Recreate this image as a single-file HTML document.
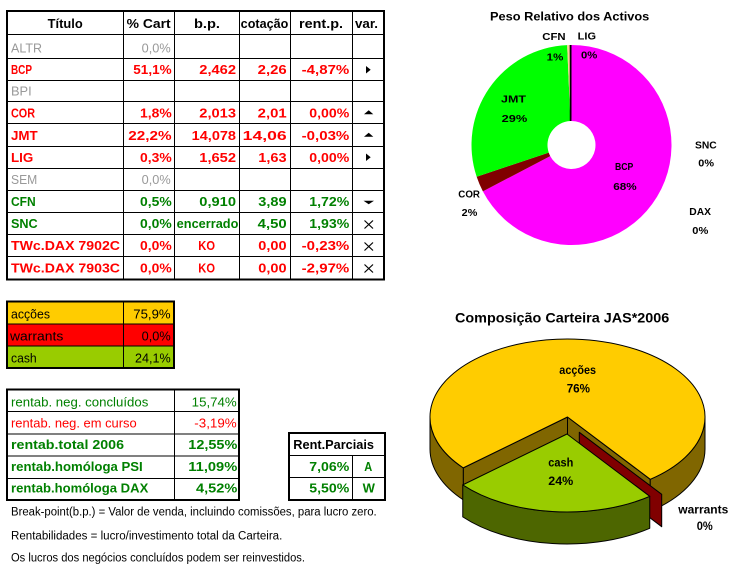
<!DOCTYPE html>
<html><head><meta charset="utf-8"><style>
html,body{margin:0;padding:0;background:#fff;width:734px;height:567px;overflow:hidden}
svg{display:block}
text{font-family:"Liberation Sans",sans-serif}
.b{font-weight:bold;font-size:12.5px}
.n{font-size:12.5px}
.red{fill:#ff0000}.grn{fill:#008000}.gry{fill:#999999}
.lb{font-weight:bold;font-size:10px;fill:#000}
</style></head><body>
<svg width="734" height="567" viewBox="0 0 734 567" xmlns="http://www.w3.org/2000/svg">
<!-- ===== Table 1 ===== -->
<g stroke="#000" stroke-width="1" fill="none">
<line x1="7" y1="34.5" x2="384" y2="34.5"/>
<line x1="7" y1="58.5" x2="384" y2="58.5"/>
<line x1="7" y1="80.5" x2="384" y2="80.5"/>
<line x1="7" y1="101.5" x2="384" y2="101.5"/>
<line x1="7" y1="123.5" x2="384" y2="123.5"/>
<line x1="7" y1="146.5" x2="384" y2="146.5"/>
<line x1="7" y1="168.5" x2="384" y2="168.5"/>
<line x1="7" y1="190.5" x2="384" y2="190.5"/>
<line x1="7" y1="212.5" x2="384" y2="212.5"/>
<line x1="7" y1="234.5" x2="384" y2="234.5"/>
<line x1="7" y1="256.5" x2="384" y2="256.5"/>
<line x1="123.5" y1="11" x2="123.5" y2="279"/>
<line x1="174.5" y1="11" x2="174.5" y2="279"/>
<line x1="239.5" y1="11" x2="239.5" y2="279"/>
<line x1="290.5" y1="11" x2="290.5" y2="279"/>
<line x1="352.5" y1="11" x2="352.5" y2="279"/>
<rect x="7" y="11" width="377" height="268.5" stroke-width="2"/>
</g>
<!-- header -->
<g class="b" fill="#000">
<text x="47.7" y="28" textLength="35" lengthAdjust="spacingAndGlyphs">Título</text>
<text x="126.7" y="28" textLength="44" lengthAdjust="spacingAndGlyphs">% Cart</text>
<text x="194" y="28" textLength="26" lengthAdjust="spacingAndGlyphs">b.p.</text>
<text x="240.7" y="28" textLength="47.6" lengthAdjust="spacingAndGlyphs">cotação</text>
<text x="299" y="28" textLength="44" lengthAdjust="spacingAndGlyphs">rent.p.</text>
<text x="355" y="28" textLength="23" lengthAdjust="spacingAndGlyphs">var.</text>
</g>
<!-- ALTR -->
<text class="n gry" x="11" y="52.5" textLength="31" lengthAdjust="spacingAndGlyphs">ALTR</text>
<text class="n gry" x="141.7" y="52.5" textLength="29" lengthAdjust="spacingAndGlyphs">0,0%</text>
<!-- BCP -->
<g class="b red">
<text x="11" y="74" textLength="21" lengthAdjust="spacingAndGlyphs">BCP</text>
<text x="133.3" y="74" textLength="38.3" lengthAdjust="spacingAndGlyphs">51,1%</text>
<text x="199.3" y="74" textLength="36.7" lengthAdjust="spacingAndGlyphs">2,462</text>
<text x="257.7" y="74" textLength="29" lengthAdjust="spacingAndGlyphs">2,26</text>
<text x="301.7" y="74" textLength="47.6" lengthAdjust="spacingAndGlyphs">-4,87%</text>
</g>
<polygon points="366,66 370.7,69.8 366,73.5" fill="#000"/>
<!-- BPI -->
<text class="n gry" x="11" y="95.5" textLength="20.7" lengthAdjust="spacingAndGlyphs">BPI</text>
<!-- COR -->
<g class="b red">
<text x="11" y="117.3" textLength="24" lengthAdjust="spacingAndGlyphs">COR</text>
<text x="140" y="117.3" textLength="31.7" lengthAdjust="spacingAndGlyphs">1,8%</text>
<text x="199.3" y="117.3" textLength="36.7" lengthAdjust="spacingAndGlyphs">2,013</text>
<text x="257.7" y="117.3" textLength="29" lengthAdjust="spacingAndGlyphs">2,01</text>
<text x="309.3" y="117.3" textLength="40" lengthAdjust="spacingAndGlyphs">0,00%</text>
</g>
<polygon points="364,114.3 368.7,110.3 373.3,114.3" fill="#000"/>
<!-- JMT -->
<g class="b red">
<text x="11" y="140" textLength="26.7" lengthAdjust="spacingAndGlyphs">JMT</text>
<text x="128.3" y="140" textLength="43.3" lengthAdjust="spacingAndGlyphs">22,2%</text>
<text x="191.7" y="140" textLength="44.3" lengthAdjust="spacingAndGlyphs">14,078</text>
<text x="242.7" y="140" textLength="44" lengthAdjust="spacingAndGlyphs">14,06</text>
<text x="301.7" y="140" textLength="47.6" lengthAdjust="spacingAndGlyphs">-0,03%</text>
</g>
<polygon points="364,136.7 368.7,132.7 373.3,136.7" fill="#000"/>
<!-- LIG -->
<g class="b red">
<text x="11" y="161.8" textLength="22.3" lengthAdjust="spacingAndGlyphs">LIG</text>
<text x="140" y="161.8" textLength="31.7" lengthAdjust="spacingAndGlyphs">0,3%</text>
<text x="199.3" y="161.8" textLength="36.7" lengthAdjust="spacingAndGlyphs">1,652</text>
<text x="258.3" y="161.8" textLength="28.3" lengthAdjust="spacingAndGlyphs">1,63</text>
<text x="309.3" y="161.8" textLength="40" lengthAdjust="spacingAndGlyphs">0,00%</text>
</g>
<polygon points="366,153.5 370.7,157.3 366,161" fill="#000"/>
<!-- SEM -->
<text class="n gry" x="11" y="184" textLength="26.3" lengthAdjust="spacingAndGlyphs">SEM</text>
<text class="n gry" x="141.7" y="184" textLength="29" lengthAdjust="spacingAndGlyphs">0,0%</text>
<!-- CFN -->
<g class="b grn">
<text x="11" y="205.8" textLength="24.7" lengthAdjust="spacingAndGlyphs">CFN</text>
<text x="140" y="205.8" textLength="31.7" lengthAdjust="spacingAndGlyphs">0,5%</text>
<text x="199.3" y="205.8" textLength="36.7" lengthAdjust="spacingAndGlyphs">0,910</text>
<text x="258.3" y="205.8" textLength="28.3" lengthAdjust="spacingAndGlyphs">3,89</text>
<text x="309.3" y="205.8" textLength="40" lengthAdjust="spacingAndGlyphs">1,72%</text>
</g>
<polygon points="363.5,200.7 374,200.7 368.7,204.3" fill="#000"/>
<!-- SNC -->
<g class="b grn">
<text x="11" y="227.8" textLength="26.7" lengthAdjust="spacingAndGlyphs">SNC</text>
<text x="140" y="227.8" textLength="31.7" lengthAdjust="spacingAndGlyphs">0,0%</text>
<text x="176.7" y="227.8" textLength="61.7" lengthAdjust="spacingAndGlyphs">encerrado</text>
<text x="257.7" y="227.8" textLength="29" lengthAdjust="spacingAndGlyphs">4,50</text>
<text x="309.3" y="227.8" textLength="40" lengthAdjust="spacingAndGlyphs">1,93%</text>
</g>
<!-- TWc 7902C -->
<g class="b red">
<text x="11" y="250" textLength="109" lengthAdjust="spacingAndGlyphs">TWc.DAX 7902C</text>
<text x="140" y="250" textLength="31.7" lengthAdjust="spacingAndGlyphs">0,0%</text>
<text x="198.3" y="250" textLength="16.7" lengthAdjust="spacingAndGlyphs">KO</text>
<text x="258.3" y="250" textLength="28.3" lengthAdjust="spacingAndGlyphs">0,00</text>
<text x="301.7" y="250" textLength="47.6" lengthAdjust="spacingAndGlyphs">-0,23%</text>
</g>
<!-- TWc 7903C -->
<g class="b red">
<text x="11" y="272.5" textLength="109" lengthAdjust="spacingAndGlyphs">TWc.DAX 7903C</text>
<text x="140" y="272.5" textLength="31.7" lengthAdjust="spacingAndGlyphs">0,0%</text>
<text x="198.3" y="272.5" textLength="16.7" lengthAdjust="spacingAndGlyphs">KO</text>
<text x="258.3" y="272.5" textLength="28.3" lengthAdjust="spacingAndGlyphs">0,00</text>
<text x="301.7" y="272.5" textLength="47.6" lengthAdjust="spacingAndGlyphs">-2,97%</text>
</g>
<!-- crosses -->
<g stroke="#000" stroke-width="1.2">
<line x1="364.5" y1="220.5" x2="373" y2="228.5"/><line x1="373" y1="220.5" x2="364.5" y2="228.5"/>
<line x1="364.5" y1="242.5" x2="373" y2="250.5"/><line x1="373" y1="242.5" x2="364.5" y2="250.5"/>
<line x1="364.5" y1="264.5" x2="373" y2="272.5"/><line x1="373" y1="264.5" x2="364.5" y2="272.5"/>
</g>

<!-- ===== Table 2 ===== -->
<rect x="7" y="301" width="167" height="23" fill="#ffcc00"/>
<rect x="7" y="324" width="167" height="22" fill="#ff0000"/>
<rect x="7" y="346" width="167" height="22" fill="#99cc00"/>
<g stroke="#000" stroke-width="1" fill="none">
<line x1="7" y1="324" x2="174" y2="324"/>
<line x1="7" y1="346" x2="174" y2="346"/>
<line x1="123.5" y1="301" x2="123.5" y2="368"/>
<rect x="7" y="301.5" width="167" height="66.5" stroke-width="2"/>
</g>
<g class="n" fill="#000">
<text x="11" y="318.5" textLength="39" lengthAdjust="spacingAndGlyphs">acções</text>
<text x="133.3" y="318.5" textLength="37.3" lengthAdjust="spacingAndGlyphs">75,9%</text>
<text x="10" y="340.5" textLength="53.3" lengthAdjust="spacingAndGlyphs">warrants</text>
<text x="141.7" y="340.5" textLength="29" lengthAdjust="spacingAndGlyphs">0,0%</text>
<text x="11" y="362.5" textLength="25.7" lengthAdjust="spacingAndGlyphs">cash</text>
<text x="135" y="362.5" textLength="35.7" lengthAdjust="spacingAndGlyphs">24,1%</text>
</g>

<!-- ===== Table 3 ===== -->
<g stroke="#000" stroke-width="1" fill="none">
<line x1="7" y1="411.5" x2="239" y2="411.5"/>
<line x1="7" y1="434" x2="239" y2="434"/>
<line x1="7" y1="456" x2="239" y2="456"/>
<line x1="7" y1="478.5" x2="239" y2="478.5"/>
<line x1="174.5" y1="389.5" x2="174.5" y2="500"/>
<rect x="7" y="389.5" width="232" height="110.5" stroke-width="2"/>
</g>
<text class="n grn" x="11" y="406.7" textLength="137.3" lengthAdjust="spacingAndGlyphs">rentab. neg. concluídos</text>
<text class="n grn" x="191.7" y="406.7" textLength="45" lengthAdjust="spacingAndGlyphs">15,74%</text>
<text class="n red" x="11" y="427.7" textLength="125.7" lengthAdjust="spacingAndGlyphs">rentab. neg. em curso</text>
<text class="n red" x="194.3" y="427.7" textLength="42.4" lengthAdjust="spacingAndGlyphs">-3,19%</text>
<g class="b grn">
<text x="11" y="449" textLength="113" lengthAdjust="spacingAndGlyphs">rentab.total 2006</text>
<text x="188.3" y="449" textLength="49" lengthAdjust="spacingAndGlyphs">12,55%</text>
<text x="11" y="471" textLength="131.7" lengthAdjust="spacingAndGlyphs">rentab.homóloga PSI</text>
<text x="188.3" y="471" textLength="49" lengthAdjust="spacingAndGlyphs">11,09%</text>
<text x="11" y="492.5" textLength="137.3" lengthAdjust="spacingAndGlyphs">rentab.homóloga DAX</text>
<text x="196" y="492.5" textLength="41.3" lengthAdjust="spacingAndGlyphs">4,52%</text>
</g>

<!-- Rent.Parciais -->
<g stroke="#000" stroke-width="1" fill="none">
<line x1="289" y1="455.5" x2="385" y2="455.5"/>
<line x1="289" y1="477.5" x2="385" y2="477.5"/>
<line x1="352.5" y1="455.5" x2="352.5" y2="500"/>
<rect x="289" y="433" width="96" height="67" stroke-width="2"/>
</g>
<text class="b" fill="#000" x="293.3" y="449" textLength="80.7" lengthAdjust="spacingAndGlyphs">Rent.Parciais</text>
<g class="b grn">
<text x="309.3" y="471" textLength="40" lengthAdjust="spacingAndGlyphs">7,06%</text>
<text x="364.3" y="471" textLength="8" lengthAdjust="spacingAndGlyphs">A</text>
<text x="309.3" y="492.5" textLength="40" lengthAdjust="spacingAndGlyphs">5,50%</text>
<text x="362.7" y="492.5" textLength="12.3" lengthAdjust="spacingAndGlyphs">W</text>
</g>

<!-- notes -->
<g font-size="11.5" fill="#000">
<text x="11" y="515.7" textLength="365.7" lengthAdjust="spacingAndGlyphs">Break-point(b.p.) = Valor de venda, incluindo comissões, para lucro zero.</text>
<text x="11" y="539.3" textLength="271.3" lengthAdjust="spacingAndGlyphs">Rentabilidades = lucro/investimento total da Carteira.</text>
<text x="11" y="561.5" textLength="294" lengthAdjust="spacingAndGlyphs">Os lucros dos negócios concluídos podem ser reinvestidos.</text>
</g>

<!-- ===== Donut chart ===== -->
<text x="490" y="20.7" font-weight="bold" font-size="11.5" fill="#000" textLength="159.3" lengthAdjust="spacingAndGlyphs">Peso Relativo dos Activos</text>
<path d="M571.5,45 A100,100 0 1 1 482.88,191.33 L550.23,156.12 A24,24 0 1 0 571.5,121 Z" fill="#ff00ff"/>
<path d="M482.88,191.33 A100,100 0 0 1 476.67,176.73 L548.74,152.62 A24,24 0 0 0 550.23,156.12 Z" fill="#800000"/>
<path d="M476.67,176.73 A100,100 0 0 1 567.14,45.1 L570.45,121.02 A24,24 0 0 0 548.74,152.62 Z" fill="#00ff00"/>
<path d="M567.14,45.1 A100,100 0 0 1 569.75,45.01 L571.08,121 A24,24 0 0 0 570.45,121.02 Z" fill="#ffcc99"/>
<path d="M569.75,45.01 A100,100 0 0 1 571.5,45 L571.5,121 A24,24 0 0 0 571.08,121 Z" fill="#000"/>
<line x1="570.5" y1="45" x2="570.5" y2="121" stroke="#000" stroke-width="1.5"/>
<text class="lb" x="542.3" y="40" textLength="23.3" lengthAdjust="spacingAndGlyphs">CFN</text>
<text class="lb" x="546.7" y="60.5" textLength="16.6" lengthAdjust="spacingAndGlyphs">1%</text>
<text class="lb" x="577.7" y="39.3" textLength="18.3" lengthAdjust="spacingAndGlyphs">LIG</text>
<text class="lb" x="581" y="58.7" textLength="16.3" lengthAdjust="spacingAndGlyphs">0%</text>
<text class="lb" x="501" y="102.7" textLength="25" lengthAdjust="spacingAndGlyphs">JMT</text>
<text class="lb" x="501.7" y="122" textLength="25.6" lengthAdjust="spacingAndGlyphs">29%</text>
<text class="lb" x="615" y="170" textLength="18.3" lengthAdjust="spacingAndGlyphs">BCP</text>
<text class="lb" x="613.3" y="190" textLength="23.4" lengthAdjust="spacingAndGlyphs">68%</text>
<text class="lb" x="695" y="148.3" textLength="21.7" lengthAdjust="spacingAndGlyphs">SNC</text>
<text class="lb" x="698.3" y="166.7" textLength="15.7" lengthAdjust="spacingAndGlyphs">0%</text>
<text class="lb" x="458.3" y="197.3" textLength="21.7" lengthAdjust="spacingAndGlyphs">COR</text>
<text class="lb" x="461.7" y="216" textLength="15.6" lengthAdjust="spacingAndGlyphs">2%</text>
<text class="lb" x="689.3" y="215" textLength="21.7" lengthAdjust="spacingAndGlyphs">DAX</text>
<text class="lb" x="692.3" y="234" textLength="16" lengthAdjust="spacingAndGlyphs">0%</text>

<!-- ===== 3D pie ===== -->
<text x="455" y="322.7" font-weight="bold" font-size="13.5" fill="#000" textLength="214.3" lengthAdjust="spacingAndGlyphs">Composição Carteira JAS*2006</text>
<g stroke="#000" stroke-width="1" stroke-linejoin="round">
<path d="M567.5,417 L650.25,479.29 L650.25,511.29 L567.5,449 Z" fill="#806600"/>
<path d="M567.5,417 L463.26,467.87 L463.26,499.87 L567.5,449 Z" fill="#806600"/>
<path d="M705,417 A137.5,78 0 0 1 650.25,479.29 L650.25,511.29 A137.5,78 0 0 0 705,449 Z" fill="#806600"/>
<path d="M463.26,467.87 A137.5,78 0 0 1 430,417 L430,449 A137.5,78 0 0 0 463.26,499.87 Z" fill="#806600"/>
<path d="M567.5,417 L463.26,467.87 A137.5,78 0 1 1 650.25,479.29 Z" fill="#ffcc00"/>
<path d="M579.3,432.3 L661.7,494.3 L661.7,526.7 L579.3,464.3 Z" fill="#800000"/>
<path d="M649.75,496.29 A137.5,78 0 0 1 462.76,484.87 L462.76,516.87 A137.5,78 0 0 0 649.75,528.29 Z" fill="#4d6600"/>
<path d="M567,434 L649.75,496.29 A137.5,78 0 0 1 462.76,484.87 Z" fill="#99cc00"/>
</g>
<g font-weight="bold" font-size="12" fill="#000">
<text x="559.3" y="374" textLength="36.7" lengthAdjust="spacingAndGlyphs">acções</text>
<text x="566.7" y="392.7" textLength="23.3" lengthAdjust="spacingAndGlyphs">76%</text>
<text x="548.3" y="466.7" textLength="25" lengthAdjust="spacingAndGlyphs">cash</text>
<text x="548.3" y="485" textLength="25" lengthAdjust="spacingAndGlyphs">24%</text>
<text x="678.3" y="513.3" textLength="50" lengthAdjust="spacingAndGlyphs">warrants</text>
<text x="696.7" y="530" textLength="16" lengthAdjust="spacingAndGlyphs">0%</text>
</g>
</svg>
</body></html>
